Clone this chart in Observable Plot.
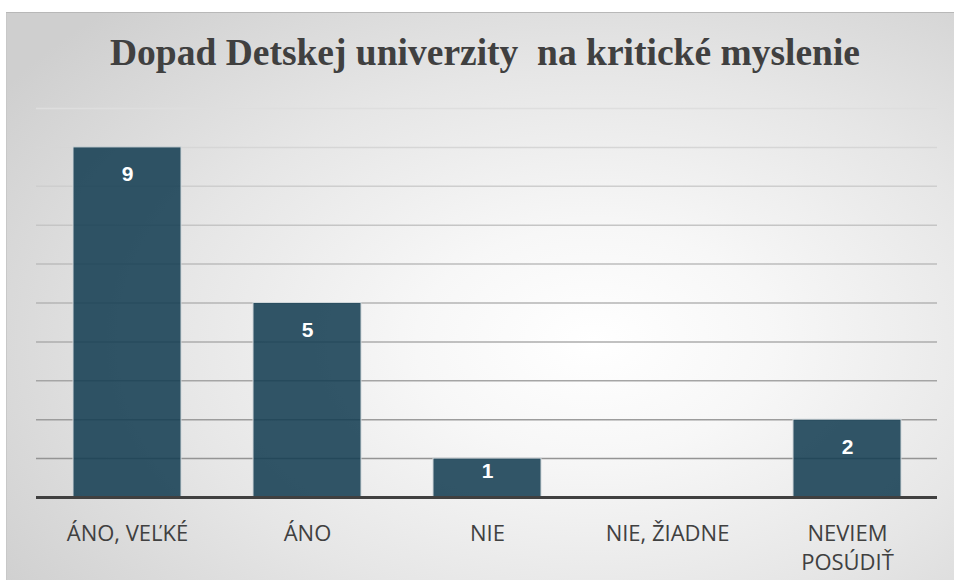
<!DOCTYPE html>
<html>
<head>
<meta charset="utf-8">
<script src="https://cdn.jsdelivr.net/npm/d3@7"></script>
<script src="https://cdn.jsdelivr.net/npm/@observablehq/plot@0.6"></script>
<style>
  html, body { margin: 0; padding: 0; background: #ffffff; }
  #panel {
    position: absolute; left: 6px; top: 12px; width: 948px; height: 568px;
    background: radial-gradient(ellipse 75% 80% at 62% 58%, #ffffff 0%, #f7f7f7 25%, #e6e6e6 60%, #cfcfcf 100%);
    box-shadow: inset 0 1px 0 #b8b8b8, inset 1px 0 0 #c8c8c8;
    overflow: hidden;
  }
  #title {
    position: absolute; left: 10px; top: 22px; width: 938px; text-align: center;
    font-family: "Liberation Serif", "Times New Roman", serif; font-weight: bold;
    font-size: 37.5px; line-height: 38px; color: #404040; white-space: pre;
  }
  #chart { position: absolute; left: 0; top: 0; }
</style>
</head>
<body>
<div id="panel">
  <div id="title">Dopad Detskej univerzity  na kritické myslenie</div>
  <div id="chart"></div>
</div>
<script>
const categories = ["ÁNO, VEĽKÉ", "ÁNO", "NIE", "NIE, ŽIADNE", "NEVIEM POSÚDIŤ"];
const tickLabels = ["ÁNO, VEĽKÉ", "ÁNO", "NIE", "NIE, ŽIADNE", "NEVIEM\nPOSÚDIŤ"];
const values = [9, 5, 1, 0, 2];
const gridValues = [1, 2, 3, 4, 5, 6, 7, 8, 9, 10];

const data = categories.map((c, i) => ({category: c, value: values[i]}));
const labelOf = new Map(categories.map((c, i) => [c, tickLabels[i]]));
const gridColor = d3.interpolateRgb("#8c8c8c", "#dedede");

const plot = Plot.plot({
  width: 948,
  height: 568,
  marginLeft: 30,
  marginRight: 17,
  marginTop: 96,
  marginBottom: 83,
  style: {background: "transparent", fontFamily: "Open Sans"},
  x: {domain: categories, paddingInner: 0.4, paddingOuter: 0.2, label: null},
  y: {domain: [0, 10], label: null},
  marks: [
    Plot.ruleY(gridValues, {y: d => d, stroke: d => gridColor(d / 10), strokeWidth: 1.5}),
    Plot.barY(data, {x: "category", y: "value", fill: "#143d52", fillOpacity: 0.87, stroke: "#cfd6d9", strokeWidth: 1}),
    Plot.ruleY([0], {stroke: "#404040", strokeWidth: 3}),
    Plot.text(data.filter(d => d.value > 0), {
      x: "category", y: d => Math.max(d.value - 0.7, 0.68), text: d => String(d.value),
      fill: "white", fontWeight: "bold", fontSize: 21, fontFamily: "Liberation Sans", lineAnchor: "middle"
    }),
    Plot.axisX({
      tickSize: 0, tickPadding: 22, fontSize: 22, fontFamily: "Open Sans", fill: "#404040",
      lineHeight: 1.35, tickFormat: d => labelOf.get(d), label: null
    }),
    Plot.axisY({ticks: [], label: null})
  ]
});
document.getElementById("chart").appendChild(plot);
</script>
</body>
</html>
